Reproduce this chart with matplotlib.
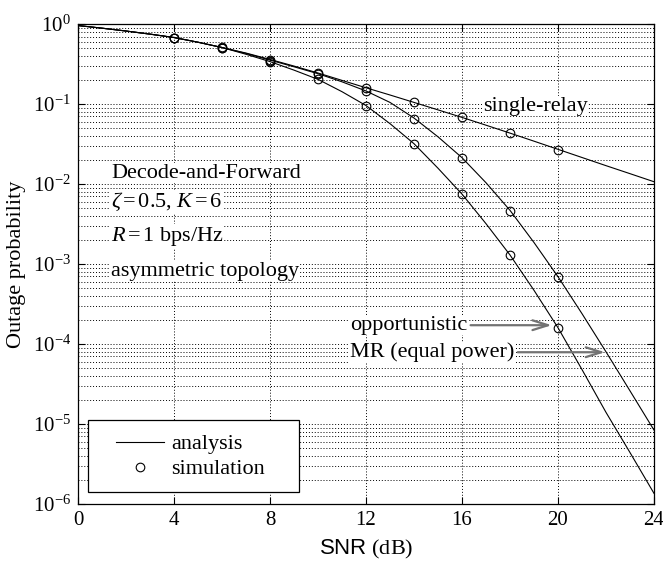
import matplotlib
matplotlib.use("Agg")
import matplotlib.pyplot as plt
from matplotlib.patches import Rectangle
from matplotlib.ticker import LogLocator, NullFormatter, FixedLocator

plt.rcParams['font.family'] = ['Liberation Serif', 'DejaVu Serif']
plt.rcParams['mathtext.fontset'] = 'custom'
plt.rcParams['mathtext.rm'] = 'Liberation Serif'
plt.rcParams['mathtext.it'] = 'Liberation Serif:italic'
plt.rcParams['mathtext.sf'] = 'Liberation Sans'

# ---- data ----
snr_analysis = list(range(0, 25))
single_relay = [0.96, 0.89, 0.82, 0.75, 0.68, 0.594, 0.51, 0.435, 0.362, 0.299,
                0.245, 0.198, 0.16, 0.13, 0.105, 0.0847, 0.0682, 0.0545, 0.0434,
                0.0344, 0.0272, 0.0215, 0.017, 0.0135, 0.0107]
mr_equal = [0.96, 0.89, 0.82, 0.75, 0.68, 0.594, 0.51, 0.43, 0.355, 0.293,
            0.24, 0.19, 0.146, 0.105, 0.067, 0.039, 0.0214, 0.0104, 0.0047,
            0.00186, 6.95e-4, 2.4e-4, 8.0e-5, 2.6e-5, 8.4e-6]
opportunistic = [0.96, 0.89, 0.82, 0.75, 0.68, 0.594, 0.51, 0.42, 0.34, 0.266,
                 0.204, 0.143, 0.096, 0.057, 0.032, 0.0158, 0.0075, 0.0032,
                 0.0013, 4.7e-4, 1.6e-4, 4.8e-5, 1.4e-5, 4.4e-6, 1.36e-6]

snr_sim = [4, 6, 8, 10, 12, 14, 16, 18, 20]
sim_single = [0.68, 0.52, 0.36, 0.246, 0.16, 0.105, 0.068, 0.0434, 0.027]
sim_mr = [0.68, 0.51, 0.35, 0.24, 0.147, 0.066, 0.0213, 0.0046, 6.9e-4]
sim_opp = [0.67, 0.50, 0.34, 0.204, 0.096, 0.032, 0.0075, 0.0013, 1.6e-4]

x_ticks = [0, 4, 8, 12, 16, 20, 24]

# ---- figure ----
fig = plt.figure(figsize=(6.63, 5.61), dpi=100)
ax = fig.add_axes([0.1176, 0.1016, 0.8688, 0.8554])

lw = 0.8
for ys in (single_relay, mr_equal, opportunistic):
    ax.plot(snr_analysis, ys, color='k', lw=lw)
for ys in (sim_single, sim_mr, sim_opp):
    ax.plot(snr_sim, ys, linestyle='none', marker='o', markersize=6.2,
            markerfacecolor='none', markeredgecolor='k', markeredgewidth=0.8)

ax.set_yscale('log')
ax.set_xlim(0, 24)
ax.set_ylim(1e-6, 1)
ax.xaxis.set_major_locator(FixedLocator(x_ticks))
ax.yaxis.set_major_locator(LogLocator(base=10, numticks=10))
ax.yaxis.set_minor_locator(LogLocator(base=10, subs=range(2, 10), numticks=100))
ax.yaxis.set_minor_formatter(NullFormatter())

gstyle = dict(linestyle=(0, (1, 2.0)), color='k', lw=0.7)
ax.grid(True, which='major', axis='both', **gstyle)
ax.grid(True, which='minor', axis='y', **gstyle)
ax.set_axisbelow(True)

ax.tick_params(axis='both', which='both', direction='in', top=True, right=True,
               labelsize=15, pad=5)
ax.tick_params(which='major', length=5, width=0.8)
ax.tick_params(which='minor', length=0)
for s in ax.spines.values():
    s.set_linewidth(0.9)

ax.set_xlabel(r'$\mathsf{SNR}$ (dB)', fontsize=16, labelpad=6)
ax.set_ylabel('Outage probability', fontsize=16, labelpad=5)

tb = dict(facecolor='white', edgecolor='none', pad=0.5)
fs = 16
ax.text(1.375, 0.01372, 'Decode-and-Forward', fontsize=fs, ha='left', va='center', bbox=tb)
ax.text(1.375, 5.96e-3, r'$\zeta\,$=$\,$0.5, $K\,$=$\,$6', fontsize=fs, ha='left', va='center', bbox=tb)
ax.text(1.375, 2.24e-3, r'$R\,$=$\,$1 bps/Hz', fontsize=fs, ha='left', va='center', bbox=tb)
ax.text(1.375, 8.18e-4, 'asymmetric topology', fontsize=fs, ha='left', va='center', bbox=tb)
ax.text(16.875, 0.0944, 'single-relay', fontsize=fs, ha='left', va='center', bbox=tb)

arrow = dict(arrowstyle='->, head_length=0.7, head_width=0.22', color='0.45', lw=1.6,
             shrinkA=2, shrinkB=0)
ax.annotate('opportunistic', xy=(19.74, 1.72e-4), xytext=(11.33, 1.72e-4),
            fontsize=fs, ha='left', va='center', arrowprops=arrow, bbox=tb)
ax.annotate('MR (equal power)', xy=(21.96, 7.9e-5), xytext=(11.33, 7.9e-5),
            fontsize=fs, ha='left', va='center', arrowprops=arrow, bbox=tb)

# legend
h_line, = ax.plot([], [], color='k', lw=lw)
h_mark, = ax.plot([], [], linestyle='none', marker='o', markersize=6.2,
                  markerfacecolor='none', markeredgecolor='k', markeredgewidth=0.8)
leg = ax.legend([h_line, h_mark], ['analysis', 'simulation'], loc='center',
                bbox_to_anchor=(0.1948, 0.0989), fontsize=fs, frameon=False,
                handlelength=2.2, handletextpad=0.3, labelspacing=0.2)
ax.add_patch(Rectangle((0.0174, 0.025), 0.3663, 0.15, transform=ax.transAxes,
                       facecolor='white', edgecolor='k', lw=0.9, zorder=4))
leg.set_zorder(5)

fig.savefig('out.png', dpi=100)
